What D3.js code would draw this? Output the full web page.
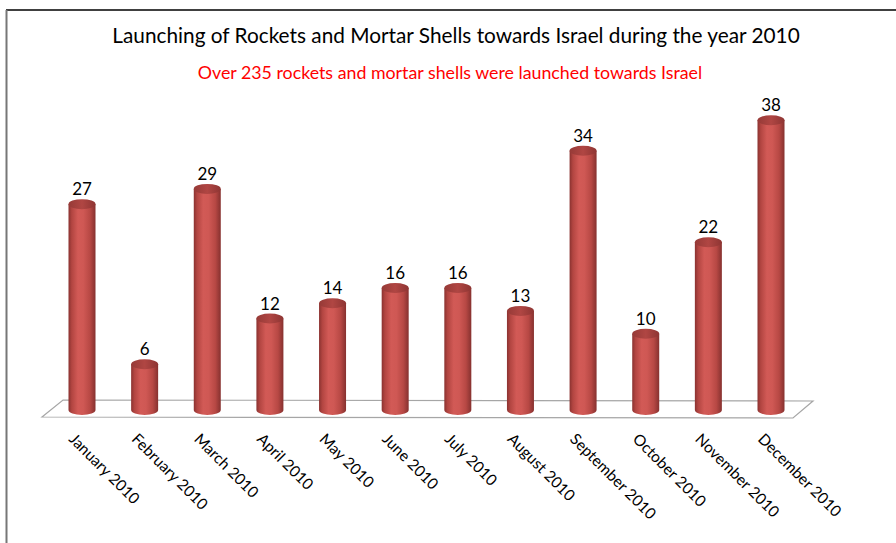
<!DOCTYPE html>
<html>
<head>
<meta charset="utf-8">
<script src="https://cdn.jsdelivr.net/npm/d3@7"></script>
<style>
 body{margin:0;background:#fff;}
 svg text{font-family:Lato,"Open Sans",sans-serif;}
</style>
</head>
<body>
<div id="chartDiv"></div>
<script>
//Chart data
var months = ["January 2010","February 2010","March 2010","April 2010","May 2010","June 2010",
              "July 2010","August 2010","September 2010","October 2010","November 2010","December 2010"];
var launches = [27,6,29,12,14,16,16,13,34,10,22,38];
var chartTitle = "Launching of Rockets and Mortar Shells towards Israel during the year 2010";
var chartSubtitle = "Over 235 rockets and mortar shells were launched towards Israel";

var W = 896, H = 543;
var barW = 27, ry = 5;

var svg = d3.select("#chartDiv").append("svg")
 .attr("width", W).attr("height", H);

var xScale = d3.scalePoint().domain(months).range([82, 771]);
var yScale = d3.scaleLinear().domain([0, 40]).range([410, 105]);

var defs = svg.append("defs");
var grad = defs.append("linearGradient").attr("id","cyl")
 .attr("x1","0").attr("y1","0").attr("x2","1").attr("y2","0");
[["0%","#8a3230"],["12%","#b24541"],["35%","#d25a56"],["55%","#cf5854"],["80%","#b74844"],["100%","#86312f"]]
 .forEach(function(s){ grad.append("stop").attr("offset",s[0]).attr("stop-color",s[1]); });
var topGrad = defs.append("linearGradient").attr("id","cylTop")
 .attr("x1","0").attr("y1","0").attr("x2","1").attr("y2","0");
[["0%","#963a37"],["50%","#b04643"],["100%","#8e3533"]]
 .forEach(function(s){ topGrad.append("stop").attr("offset",s[0]).attr("stop-color",s[1]); });

//Outer frame
svg.append("line").attr("x1",6).attr("y1",10).attr("x2",W).attr("y2",10)
 .attr("stroke","#000").attr("stroke-width",1.5);
svg.append("line").attr("x1",6.5).attr("y1",10).attr("x2",6.5).attr("y2",H)
 .attr("stroke","#777").attr("stroke-width",2);

//Titles
svg.append("text").attr("x",456).attr("y",43).attr("text-anchor","middle")
 .style("font-size","20.8px").style("fill","#000").text(chartTitle);
svg.append("text").attr("x",450).attr("y",79).attr("text-anchor","middle")
 .style("font-size","17.8px").style("fill","#ff0000").text(chartSubtitle);

//Floor plane
var x0 = xScale.range()[0], x1 = xScale.range()[1], base = yScale(0);
svg.append("polygon")
 .attr("points", [[x0-40,base+7],[x0-19,base-10],[x1+42,base-9],[x1+22,base+8]].join(" "))
 .attr("fill","#fff").attr("stroke","#a6a6a6").attr("stroke-width",1.2);

//Cylinders
var bars = svg.selectAll(".bar").data(launches).enter().append("g").attr("class","bar");
bars.append("path")
 .attr("d", function(d,i){
   var cx = xScale(months[i]), l = cx - barW/2, r = cx + barW/2, t = yScale(d);
   return "M"+l+","+t+" L"+l+","+base+" A"+(barW/2)+","+ry+" 0 0 0 "+r+","+base+" L"+r+","+t+" Z";
 })
 .attr("fill","url(#cyl)");
bars.append("ellipse")
 .attr("cx", function(d,i){ return xScale(months[i]); })
 .attr("cy", function(d){ return yScale(d); })
 .attr("rx", barW/2).attr("ry", ry)
 .attr("fill","url(#cylTop)");

//Value labels
bars.append("text")
 .attr("x", function(d,i){ return xScale(months[i]); })
 .attr("y", function(d){ return yScale(d) - 9; })
 .attr("text-anchor","middle")
 .style("font-size","17px").style("fill","#000")
 .text(function(d){ return d; });

//Month labels
svg.selectAll(".mlabel").data(months).enter().append("text")
 .attr("class","mlabel")
 .attr("transform", function(d){ return "translate(" + (xScale(d) - 14) + ",440)rotate(45)"; })
 .style("font-size","15.5px").style("fill","#000")
 .text(function(d){ return d; });
</script>
</body>
</html>
